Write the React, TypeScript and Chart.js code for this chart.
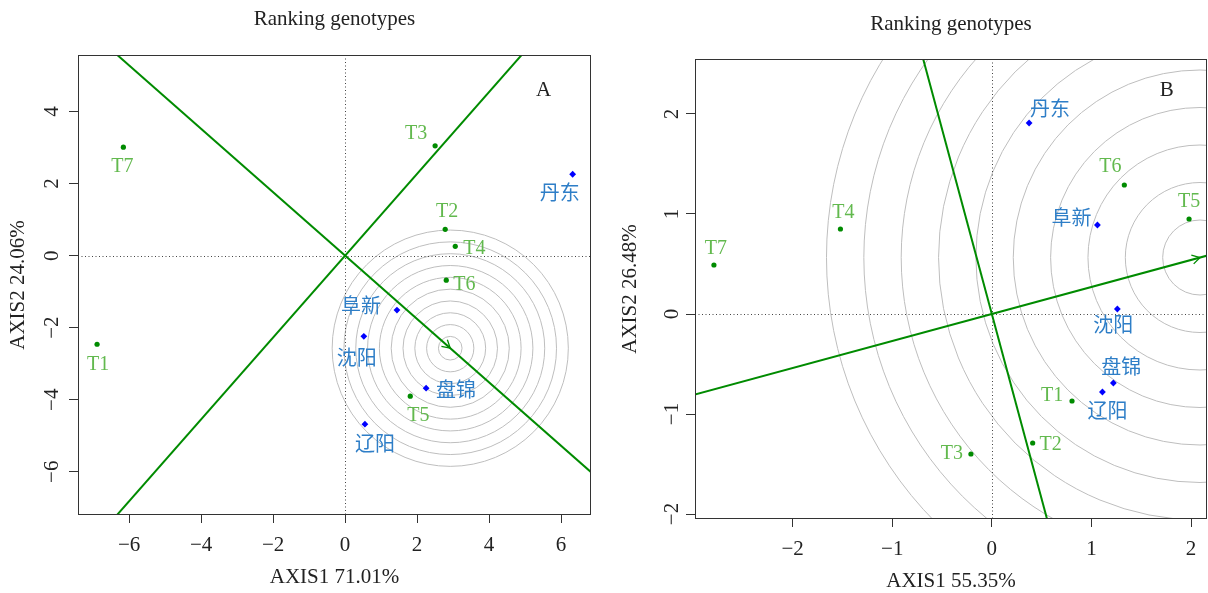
import React, { useEffect, useRef } from 'react';
import { Chart, registerables } from 'chart.js';

Chart.register(...registerables);

// ---------- data ----------
const genotypes = ['T1', 'T2', 'T3', 'T4', 'T5', 'T6', 'T7'];
const environments = ['丹东', '阜新', '沈阳', '盘锦', '辽阳'];

// Panel A
const genoAX = [-6.89, 2.78, 2.5, 3.06, 1.81, 2.81, -6.16];
const genoAY = [-2.46, 0.73, 3.05, 0.26, -3.9, -0.68, 3.01];
const envAX = [6.32, 1.44, 0.52, 2.25, 0.55];
const envAY = [2.26, -1.51, -2.24, -3.68, -4.68];
const idealA = [2.92, -2.57];
const ringStepA = 0.328;
const xTicksA = [-6, -4, -2, 0, 2, 4, 6];
const yTicksA = [-6, -4, -2, 0, 2, 4];
const xRangeA = [-7.42, 6.83];
const yRangeA = [-7.2, 5.57];

// Panel B
const genoBX = [0.805, 0.41, -0.21, -1.52, 1.98, 1.33, -2.79];
const genoBY = [-0.87, -1.29, -1.4, 0.85, 0.95, 1.29, 0.49];
const envBX = [0.374, 1.06, 1.26, 1.22, 1.11];
const envBY = [1.91, 0.89, 0.05, -0.69, -0.78];
const idealB = [2.09, 0.565];
const ringStepB = 0.375;
const xTicksB = [-2, -1, 0, 1, 2];
const yTicksB = [-2, -1, 0, 1, 2];
const xRangeB = [-2.98, 2.16];
const yRangeB = [-2.05, 2.55];

const ringCount = 10;

// ---------- label placement (pixel nudges, label centre relative to marker) ----------
const genoLabelOffA = [[1, 20], [2, -18], [-19, -12], [19, 2], [8, 20], [18, 5], [-1, 20]];
const envLabelOffA = [[-13, 21], [-36, -2], [-7, 23], [30, 4], [10, 22]];
const genoLabelOffB = [[-20, -5], [18, 2], [-19, 0], [3, -16], [0, -17], [-14, -18], [2, -16]];
const envLabelOffB = [[21, -12], [-26, -5], [-4, 18], [8, -14], [5, 21]];

// ---------- styles ----------
const FONT = "'Liberation Serif', 'Noto Sans CJK SC', serif";
const TEXT = '#222222';
const AXIS = '#333333';
const DOT_GREEN = '#008B00';
const LABEL_GREEN = '#62B94E';
const DIAMOND_BLUE = '#0000FF';
const LABEL_BLUE = '#2E7EC7';
const LINE_GREEN = '#008B00';
const RING = '#BEBEBE';

const fmt = (v: number) => (v < 0 ? '\u2212' + Math.abs(v) : String(v));

const panels = [
  {
    key: 'A',
    left: 0,
    width: 604,
    genoX: genoAX, genoY: genoAY, envX: envAX, envY: envAY,
    ideal: idealA, ringStep: ringStepA,
    xRange: xRangeA, yRange: yRangeA, xTicks: xTicksA, yTicks: yTicksA,
    xTitle: 'AXIS1 71.01%', yTitle: 'AXIS2 24.06%',
    genoOff: genoLabelOffA, envOff: envLabelOffA,
    lay: { yW: 78, xH: 78, padR: 13, tTop: 7, tBot: 22.8, yTitlePad: 8, xTitlePad: 5, yTickOff: 26, letterX: 543.5, letterY: 90 },
  },
  {
    key: 'B',
    left: 604,
    width: 604,
    genoX: genoBX, genoY: genoBY, envX: envBX, envY: envBY,
    ideal: idealB, ringStep: ringStepB,
    xRange: xRangeB, yRange: yRangeB, xTicks: xTicksB, yTicks: yTicksB,
    xTitle: 'AXIS1 55.35%', yTitle: 'AXIS2 26.48%',
    genoOff: genoLabelOffB, envOff: envLabelOffB,
    lay: { yW: 91, xH: 74, padR: 1, tTop: 12, tBot: 21.8, yTitlePad: 16, xTitlePad: 1, yTickOff: 23, letterX: 562.7, letterY: 90 },
  },
];

function buildChart(canvas: HTMLCanvasElement, p: any) {
  const L = p.lay;
  const plugin = {
    id: 'biplot' + p.key,
    beforeDatasetsDraw(chart: any) {
      const { ctx, chartArea: a } = chart;
      const x = chart.scales.x;
      const y = chart.scales.y;
      const px = (vx: number, vy: number) => [x.getPixelForValue(vx), y.getPixelForValue(vy)];
      ctx.save();
      ctx.beginPath();
      ctx.rect(a.left, a.top, a.right - a.left, a.bottom - a.top);
      ctx.clip();
      const [cx, cy] = p.ideal;
      const [cpx, cpy] = px(cx, cy);
      // concentric rings around the ideal genotype
      ctx.strokeStyle = RING;
      ctx.lineWidth = 1;
      for (let k = 1; k <= ringCount; k++) {
        const r = k * p.ringStep;
        const rx = Math.abs(x.getPixelForValue(cx + r) - cpx);
        const ry = Math.abs(y.getPixelForValue(cy + r) - cpy);
        ctx.beginPath();
        ctx.ellipse(cpx, cpy, rx, ry, 0, 0, Math.PI * 2);
        ctx.stroke();
      }
      // dotted zero lines
      const [ox, oy] = px(0, 0);
      ctx.strokeStyle = '#444444';
      ctx.setLineDash([1, 2.5]);
      ctx.beginPath();
      ctx.moveTo(Math.round(ox) + 0.5, a.top);
      ctx.lineTo(Math.round(ox) + 0.5, a.bottom);
      ctx.moveTo(a.left, Math.round(oy) + 0.5);
      ctx.lineTo(a.right, Math.round(oy) + 0.5);
      ctx.stroke();
      ctx.setLineDash([]);
      // AEC abscissa and ordinate through the origin
      ctx.strokeStyle = LINE_GREEN;
      ctx.lineWidth = 2;
      const far = 100;
      [[cx, cy], [-cy, cx]].forEach(([dx, dy]) => {
        const [x1, y1] = px(-far * dx, -far * dy);
        const [x2, y2] = px(far * dx, far * dy);
        ctx.beginPath();
        ctx.moveTo(x1, y1);
        ctx.lineTo(x2, y2);
        ctx.stroke();
      });
      // arrow head at the ideal point
      const ang = Math.atan2(cpy - oy, cpx - ox);
      const head = 9;
      ctx.lineWidth = 1.3;
      ctx.beginPath();
      ctx.moveTo(cpx - head * Math.cos(ang - Math.PI / 6), cpy - head * Math.sin(ang - Math.PI / 6));
      ctx.lineTo(cpx, cpy);
      ctx.lineTo(cpx - head * Math.cos(ang + Math.PI / 6), cpy - head * Math.sin(ang + Math.PI / 6));
      ctx.stroke();
      ctx.restore();
    },
    afterDatasetsDraw(chart: any) {
      const { ctx } = chart;
      ctx.save();
      ctx.font = `20px ${FONT}`;
      ctx.textAlign = 'center';
      ctx.textBaseline = 'middle';
      const gm = chart.getDatasetMeta(0);
      gm.data.forEach((el: any, i: number) => {
        ctx.fillStyle = LABEL_GREEN;
        ctx.fillText(genotypes[i], el.x + p.genoOff[i][0], el.y + p.genoOff[i][1]);
      });
      const em = chart.getDatasetMeta(1);
      em.data.forEach((el: any, i: number) => {
        ctx.fillStyle = LABEL_BLUE;
        ctx.fillText(environments[i], el.x + p.envOff[i][0], el.y + p.envOff[i][1]);
      });
      ctx.restore();
    },
    afterDraw(chart: any) {
      const { ctx, chartArea: a } = chart;
      const y = chart.scales.y;
      ctx.save();
      ctx.strokeStyle = AXIS;
      ctx.lineWidth = 1;
      ctx.strokeRect(Math.round(a.left) + 0.5, Math.round(a.top) + 0.5, Math.round(a.right - a.left) - 1, Math.round(a.bottom - a.top) - 1);
      // rotated y tick labels
      ctx.fillStyle = TEXT;
      ctx.font = `21px ${FONT}`;
      ctx.textAlign = 'center';
      ctx.textBaseline = 'middle';
      y.ticks.forEach((t: any) => {
        const py = y.getPixelForValue(t.value);
        ctx.save();
        ctx.translate(a.left - L.yTickOff, py);
        ctx.rotate(-Math.PI / 2);
        ctx.fillText(fmt(t.value), 0, 0);
        ctx.restore();
      });
      // panel letter
      ctx.fillText(p.key, L.letterX, L.letterY);
      ctx.restore();
    },
  };

  const font = { family: FONT, size: 21, weight: 'normal' as const };
  const titleFont = { family: FONT, size: 21, weight: 'normal' as const, lineHeight: 1 };

  return new Chart(canvas, {
    type: 'scatter',
    data: {
      datasets: [
        {
          label: 'genotypes',
          data: p.genoX.map((v: number, i: number) => ({ x: v, y: p.genoY[i] })),
          pointStyle: 'circle',
          pointRadius: 2.6,
          backgroundColor: DOT_GREEN,
          borderWidth: 0,
        },
        {
          label: 'environments',
          data: p.envX.map((v: number, i: number) => ({ x: v, y: p.envY[i] })),
          pointStyle: 'rectRot',
          pointRadius: 3.4,
          backgroundColor: DIAMOND_BLUE,
          borderWidth: 0,
        },
      ],
    },
    options: {
      responsive: false,
      animation: false,
      devicePixelRatio: 1,
      events: [],
      layout: { autoPadding: false, padding: { left: 0, right: L.padR, top: 0, bottom: 0 } },
      plugins: {
        legend: { display: false },
        tooltip: { enabled: false },
        title: {
          display: true,
          text: 'Ranking genotypes',
          fullSize: false,
          color: TEXT,
          font: { family: FONT, size: 21, weight: 'normal', lineHeight: 1.2 },
          padding: { top: L.tTop, bottom: L.tBot },
        },
      },
      scales: {
        x: {
          type: 'linear',
          min: p.xRange[0],
          max: p.xRange[1],
          afterFit: (s: any) => { s.height = L.xH; },
          afterBuildTicks: (s: any) => { s.ticks = p.xTicks.map((v: number) => ({ value: v })); },
          border: { display: false },
          grid: { display: true, drawOnChartArea: false, drawTicks: true, tickLength: 8, color: AXIS, lineWidth: 1 },
          ticks: { autoSkip: false, maxRotation: 0, minRotation: 0, padding: 10, color: TEXT, font, callback: (v: any) => fmt(Number(v)) },
          title: { display: true, text: p.xTitle, color: TEXT, font: titleFont, padding: { top: 0, bottom: L.xTitlePad } },
        },
        y: {
          type: 'linear',
          min: p.yRange[0],
          max: p.yRange[1],
          afterFit: (s: any) => { s.width = L.yW; },
          afterBuildTicks: (s: any) => { s.ticks = p.yTicks.map((v: number) => ({ value: v })); },
          border: { display: false },
          grid: { display: true, drawOnChartArea: false, drawTicks: true, tickLength: 9, color: AXIS, lineWidth: 1 },
          ticks: { display: false },
          title: { display: true, text: p.yTitle, color: TEXT, font: titleFont, padding: { top: L.yTitlePad, bottom: 0 } },
        },
      },
    },
    plugins: [plugin],
  } as any);
}

function Panel({ p }: { p: any }) {
  const ref = useRef<HTMLCanvasElement | null>(null);
  useEffect(() => {
    if (!ref.current) return;
    const chart = buildChart(ref.current, p);
    return () => chart.destroy();
  }, [p]);
  return (
    <canvas
      ref={ref}
      width={p.width}
      height={593}
      style={{ position: 'absolute', left: p.left, top: 0, width: p.width, height: 593 }}
    />
  );
}

export default function App() {
  return (
    <div style={{ position: 'fixed', left: 0, top: 0, width: 1208, height: 593, background: '#ffffff', overflow: 'hidden' }}>
      {panels.map((p) => (
        <Panel key={p.key} p={p} />
      ))}
    </div>
  );
}
